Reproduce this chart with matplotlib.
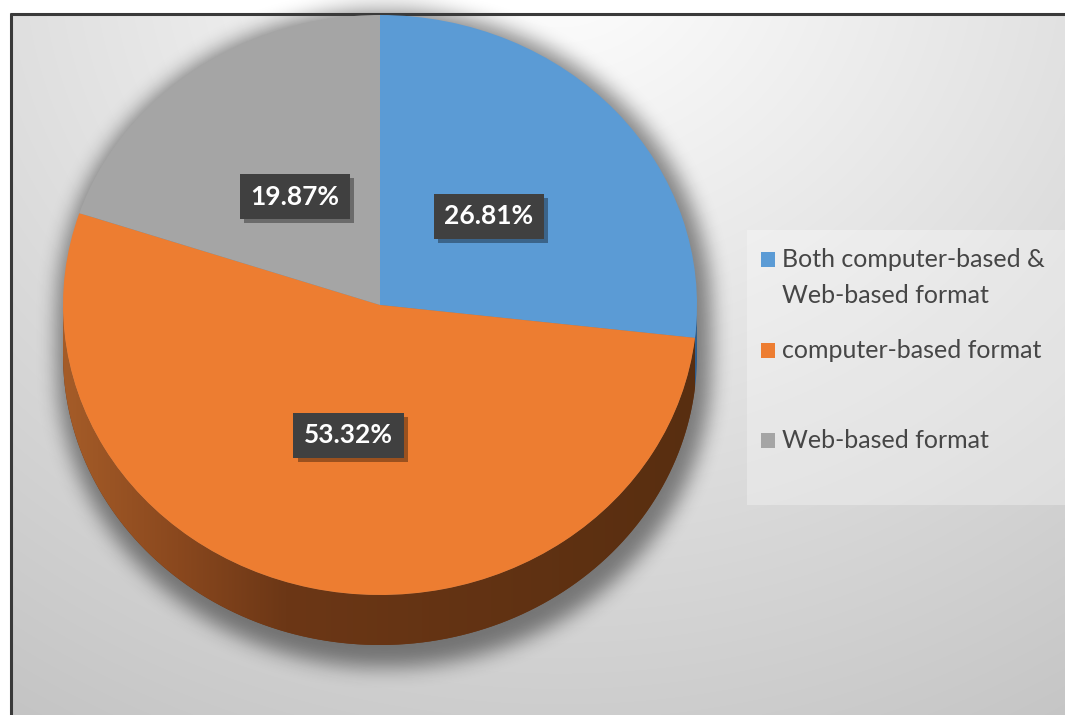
import numpy as np
import matplotlib.pyplot as plt
from matplotlib.patches import Polygon, Rectangle
from matplotlib.colors import LinearSegmentedColormap
import matplotlib.patheffects as pe

# delivery format shares (%)
labels = ['Both computer-based &\nWeb-based format', 'computer-based format', 'Web-based format']
shares = [26.81, 53.32, 19.87]
colors = ['#5b9bd5', '#ed7d31', '#a5a5a5']
side_colors = ['#2f5f8f', '#6a3615', '#5f5f5f']

W, H = 1065, 715
fig = plt.figure(figsize=(W / 100, H / 100), dpi=100)

# pie placement in pixels: centre, radii of the tilted top face, rim depth
cx, cy = 380, 305
rx, ry = 317, 290
depth = 50


def blur1d(a, r, axis):
    a = np.moveaxis(a, axis, -1)
    p = np.pad(a, [(0, 0), (r + 1, r)], mode='edge')
    c = np.cumsum(p, axis=-1)
    out = (c[:, 2 * r + 1:] - c[:, :-2 * r - 1]) / (2 * r + 1)
    return np.moveaxis(out, -1, axis)


def blur(a, r):
    for _ in range(3):
        a = blur1d(a, r, 1)
        a = blur1d(a, r, 0)
    return a


# ---- background panel (pixel coords) ----
bg = fig.add_axes([0, 0, 1, 1])
bg.set_xlim(0, W)
bg.set_ylim(H, 0)
bg.axis('off')

yy, xx = np.mgrid[0:H, 0:W].astype(float)
r = np.sqrt(((xx - 560) / 900) ** 2 + ((yy + 50) / 800) ** 2)
shade = np.clip(255 - 52 * r, 0, 255) / 255
shade[(xx < 11) | (yy < 14)] = 1.0
bg.imshow(np.dstack([shade] * 3), extent=(0, W, H, 0), aspect='auto', zorder=0)

# soft drop shadow under the disc
u = (xx - cx - 4) / (rx + 10)
v = (cy + 4 - yy) / (ry + 10)
half = np.sqrt(np.clip(1 - u ** 2, 0, None))
d = (depth + 8) / (ry + 10)
mask = ((np.abs(u) <= 1) & (v <= half) & (v >= -d - half)).astype(float)
sh = blur(mask, 9)
rgba = np.zeros((H, W, 4))
rgba[..., 3] = 0.45 * sh
bg.imshow(rgba, extent=(0, W, H, 0), aspect='auto', zorder=1)

# frame lines
bg.plot([10, W], [13.5, 13.5], color='#3a3a3a', lw=2.2, zorder=5, solid_capstyle='butt')
bg.plot([10.5, 10.5], [13, H], color='#3a3a3a', lw=2.2, zorder=5, solid_capstyle='butt')

# legend
bg.add_patch(Rectangle((747, 230), 330, 275, facecolor='white', alpha=0.3,
                       edgecolor='none', zorder=2))
baselines = [267, 358, 448]
for lab, col, yb in zip(labels, colors, baselines):
    bg.add_patch(Rectangle((761, yb - 15), 14, 15, facecolor=col,
                           edgecolor='none', zorder=3))
    for k, line in enumerate(lab.split('\n')):
        bg.text(782, yb + 36 * k, line, fontsize=18, family='Lato',
                color='#464646', va='baseline', ha='left', zorder=3)

# ---- pie (unit radius, stretched to the tilted ellipse) ----
ax = fig.add_axes([0, 0, 1, 1])
ax.patch.set_alpha(0)
wedges, _, autotexts = ax.pie(
    shares, colors=colors, startangle=90, counterclock=False,
    autopct=lambda p: f'{p:.2f}%', pctdistance=0.46,
    wedgeprops=dict(linewidth=0),
    textprops=dict(color='white', fontsize=19, family='Lato', fontweight='bold'))
for w in wedges:
    w.set_zorder(3)

dz = depth / ry
rim_cmap = LinearSegmentedColormap.from_list(
    'rim', [(0, '#a55c28'), (0.18, '#8a481e'), (0.35, '#6c3716'), (1, '#582e10')])

for i, (w, sc) in enumerate(zip(wedges, side_colors)):
    t1, t2 = sorted((w.theta1, w.theta2))
    for k in (-1, 0, 1):
        a, b = max(t1, 180 + 360 * k), min(t2, 360 + 360 * k)
        if b <= a:
            continue
        t = np.radians(np.linspace(a, b, 120))
        top = np.column_stack([np.cos(t), np.sin(t)])
        bot = np.column_stack([np.cos(t), np.sin(t) - dz])[::-1]
        poly = Polygon(np.vstack([top, bot]), closed=True, facecolor=sc,
                       edgecolor='none', zorder=2)
        ax.add_patch(poly)
        if i == 1:
            grad = np.linspace(0, 1, 256)[None, :]
            im = ax.imshow(grad, cmap=rim_cmap, extent=(-1, 1, -1 - dz, 0),
                           aspect='auto', zorder=2.5)
            im.set_clip_path(poly)

for txt in autotexts:
    txt.set_zorder(6)
    txt.set_bbox(dict(boxstyle='square,pad=0.4', facecolor='#404040',
                      edgecolor='none'))
    txt.get_bbox_patch().set_path_effects(
        [pe.SimplePatchShadow(offset=(3, -3), shadow_rgbFace='black', alpha=0.35),
         pe.Normal()])

ax.set_aspect('auto')
ax.set_xlim(-cx / rx, (W - cx) / rx)
ax.set_ylim(-(H - cy) / ry, cy / ry)
ax.axis('off')

fig.savefig('out.png', dpi=100)
